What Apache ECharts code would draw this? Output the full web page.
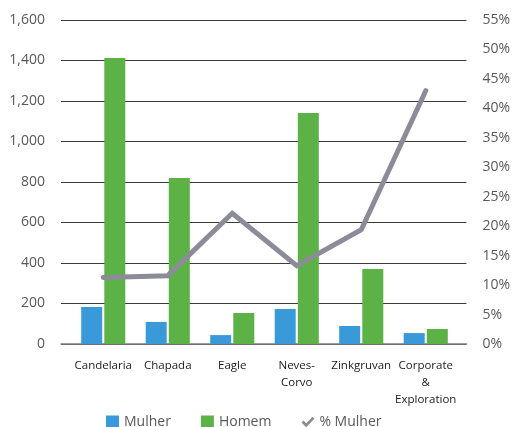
<!DOCTYPE html>
<html><head><meta charset="utf-8">
<script src="https://cdn.jsdelivr.net/npm/echarts@6/dist/echarts.min.js"></script>
<style>html,body{margin:0;padding:0;background:#fff}#c{width:513px;height:427px}</style>
</head><body><div id="c"></div>
<script>
var categories = ['Candelaria', 'Chapada', 'Eagle', 'Neves-\nCorvo', 'Zinkgruvan', 'Corporate\n&\nExploration'];
var mulher = [183, 109, 44, 173, 89, 54];
var homem = [1412, 820, 153, 1141, 370, 74];
var pctMulher = [11.3, 11.6, 22.2, 13.3, 19.4, 43.0];
var leftTicks = [0, 1600, 200];
var rightTicks = [0, 55, 5];

var font = '"Open Sans", "Noto Sans", sans-serif';
var chart = echarts.init(document.getElementById('c'), null, {renderer: 'canvas'});
chart.setOption({
  animation: false,
  textStyle: {fontFamily: font},
  grid: [
    {left: 71, right: 55, top: 20, bottom: 83},
    {left: 61, right: 45, top: 20, bottom: 83}
  ],
  legend: {
    left: 106, top: 413, padding: 0,
    itemWidth: 13, itemHeight: 13, itemGap: 30,
    textStyle: {fontSize: 14, color: '#595959', fontFamily: font, lineHeight: 18},
    data: [
      {name: 'Mulher', icon: 'rect'},
      {name: 'Homem', icon: 'rect'},
      {name: '% Mulher', icon: 'path://M0,6 L2.2,4 L5,6.8 L11.5,0 L13.5,2 L5,11 Z', itemStyle: {color: '#8c8c98'}}
    ]
  },
  xAxis: [
    {
      type: 'category', gridIndex: 0, data: categories,
      axisLine: {show: false}, axisTick: {show: false},
      axisLabel: {color: '#1a1a1a', fontSize: 11.5, lineHeight: 17, margin: 13, interval: 0, fontFamily: font}
    },
    {
      type: 'value', gridIndex: 1, min: 0, max: 1,
      axisLine: {show: true, lineStyle: {color: '#7f7f7f', width: 1.5}},
      axisTick: {show: false}, axisLabel: {show: false}, splitLine: {show: false}
    }
  ],
  yAxis: [
    {type: 'value', gridIndex: 0, min: leftTicks[0], max: leftTicks[1], interval: leftTicks[2],
     axisLabel: {show: false}, splitLine: {show: false}, axisLine: {show: false}, axisTick: {show: false}},
    {type: 'value', gridIndex: 0, min: rightTicks[0], max: rightTicks[1], interval: rightTicks[2], position: 'right',
     axisLabel: {show: false}, splitLine: {show: false}, axisLine: {show: false}, axisTick: {show: false}},
    {type: 'value', gridIndex: 1, min: leftTicks[0], max: leftTicks[1], interval: leftTicks[2], position: 'left',
     axisLine: {show: false}, axisTick: {show: false},
     splitLine: {show: true, lineStyle: {color: '#3a3a3a', width: 1}},
     axisLabel: {color: '#595959', fontSize: 14, margin: 16, fontFamily: font,
       formatter: function (v) { return v.toLocaleString('en-US'); }}},
    {type: 'value', gridIndex: 1, min: rightTicks[0], max: rightTicks[1], interval: rightTicks[2], position: 'right',
     axisLine: {show: false}, axisTick: {show: false}, splitLine: {show: false},
     axisLabel: {color: '#595959', fontSize: 14, margin: 16, fontFamily: font,
       formatter: function (v) { return v + '%'; }}}
  ],
  series: [
    {name: 'Mulher', type: 'bar', xAxisIndex: 0, yAxisIndex: 0, data: mulher,
     barWidth: 21, barGap: '10%', itemStyle: {color: '#3a9ad9'}},
    {name: 'Homem', type: 'bar', xAxisIndex: 0, yAxisIndex: 0, data: homem,
     barWidth: 21, barGap: '10%', itemStyle: {color: '#5cb247'}},
    {name: '% Mulher', type: 'line', xAxisIndex: 0, yAxisIndex: 1, data: pctMulher,
     symbol: 'none', z: 5,
     lineStyle: {color: '#8c8c98', width: 5, cap: 'round', join: 'miter'},
     itemStyle: {color: '#8c8c98'}}
  ]
});
</script>
</body></html>
